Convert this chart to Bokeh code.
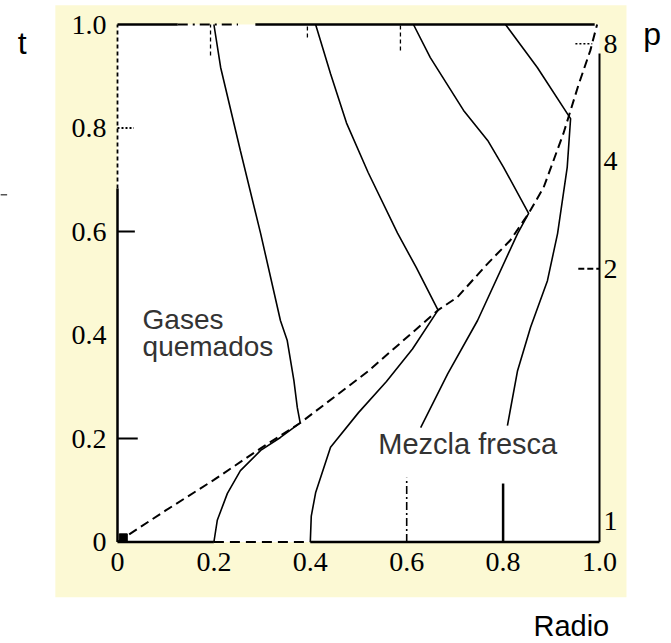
from bokeh.plotting import figure
from bokeh.models import Range1d, LinearAxis, FixedTicker, Label
from bokeh.embed import file_html
from bokeh.resources import INLINE

# ---------------- data ----------------
# flame front (dashed)
front_r = [0.0, 0.10, 0.20, 0.297, 0.379, 0.52, 0.665, 0.705, 0.768, 0.815, 0.853, 0.884, 0.925, 0.956, 0.981, 0.995]
front_t = [0.0, 0.061, 0.12, 0.181, 0.230, 0.33, 0.448, 0.473, 0.538, 0.583, 0.635, 0.685, 0.789, 0.882, 0.950, 1.0]

# particle path starting at r = 0.2
pathA_r = [0.2, 0.207, 0.228, 0.255, 0.297, 0.338, 0.379, 0.373, 0.366, 0.352, 0.338, 0.297, 0.255, 0.214, 0.2]
pathA_t = [0.0, 0.042, 0.094, 0.138, 0.177, 0.202, 0.230, 0.26, 0.312, 0.39, 0.428, 0.596, 0.756, 0.917, 1.0]

# particle path starting at r = 0.4
pathB_r = [0.4, 0.402, 0.411, 0.442, 0.50, 0.558, 0.612, 0.665, 0.62, 0.581, 0.52, 0.475, 0.442, 0.411]
pathB_t = [0.0, 0.05, 0.095, 0.183, 0.25, 0.31, 0.373, 0.448, 0.53, 0.597, 0.714, 0.81, 0.905, 1.0]

# particle path starting at r = 0.6 (lower part interrupted by the label)
pathC_low_r = [0.6, 0.6]
pathC_low_t = [0.0, 0.124]
pathC_r = [0.629, 0.685, 0.747, 0.83, 0.853, 0.801, 0.768, 0.718, 0.649, 0.614]
pathC_t = [0.221, 0.325, 0.428, 0.596, 0.635, 0.724, 0.776, 0.834, 0.936, 1.0]

# particle path starting at r = 0.8 (lower part interrupted by the label)
pathD_low_r = [0.8, 0.8]
pathD_low_t = [0.0, 0.113]
pathD_r = [0.809, 0.830, 0.857, 0.892, 0.913, 0.933, 0.940, 0.871, 0.805]
pathD_t = [0.225, 0.331, 0.415, 0.505, 0.596, 0.724, 0.818, 0.917, 1.0]

# short stubs near the top edge
stub_r = [0.193, 0.394, 0.587]
stub_t0 = [0.94, 0.975, 0.95]
stub_t1 = [1.0, 1.0, 1.0]

# axes
r_ticks = [0.0, 0.2, 0.4, 0.6, 0.8, 1.0]
r_labels = ["0", "0.2", "0.4", "0.6", "0.8", "1.0"]
t_ticks = [0.0, 0.2, 0.4, 0.6, 0.8, 1.0]
t_labels = ["0", "0.2", "0.4", "0.6", "0.8", "1.0"]
p_ticks_t = [0.041, 0.528, 0.737, 0.963]
p_labels = ["1", "2", "4", "8"]

# ---------------- figure ----------------
W, H = 671, 643
X0, XW = 117.0, 482.0      # pixel of r=0 and pixel width of r in [0,1]
Y0, YH = 541.5, 517.5      # pixel of t=0 and pixel height of t in [0,1]

p = figure(width=W, height=H, output_backend="svg", toolbar_location=None,
           x_range=Range1d(-X0 / XW, (W - X0) / XW),
           y_range=Range1d(-(H - Y0) / YH, Y0 / YH),
           x_axis_location=None, y_axis_location=None, min_border=0)
p.min_border_left = p.min_border_right = p.min_border_top = p.min_border_bottom = 0
p.grid.visible = False
p.background_fill_color = "white"
p.border_fill_color = "white"
p.outline_line_color = None

SERIF = "Liberation Serif"
SANS = "Liberation Sans"

def make_axis(ticks, labels, loc, standoff):
    ax = LinearAxis(ticker=FixedTicker(ticks=ticks),
                    major_label_overrides=dict(zip(ticks, labels)),
                    fixed_location=loc)
    ax.major_tick_in = 0
    ax.major_tick_out = 0
    ax.minor_tick_line_color = None
    ax.axis_line_color = None
    ax.major_label_text_font = SERIF
    ax.major_label_text_font_size = "28px"
    ax.major_label_text_color = "black"
    ax.major_label_standoff = standoff
    return ax

# beige scanned background and white plotting area
p.quad(left=[-0.129], right=[1.056], bottom=[-0.107], top=[1.037],
       fill_color="#fcf9d4", line_color=None)
p.quad(left=[0], right=[1], bottom=[0], top=[1], fill_color="white", line_color=None)

p.add_layout(make_axis(r_ticks, r_labels, 0, 11), "below")
p.add_layout(make_axis(t_ticks, t_labels, 0, 11), "left")
p.add_layout(make_axis(p_ticks_t, p_labels, 1, 4), "right")

# frame lines
fw = 2.5
p.line([0, 0], [0, 0.683], line_color="black", line_width=fw)
p.line([0, 0], [0.683, 1.0], line_color="black", line_width=1.8, line_dash="4 3")
p.line([0, 0.2], [0, 0], line_color="black", line_width=fw)
p.line([0.2, 0.4], [0, 0], line_color="black", line_width=2, line_dash="10 6")
p.line([0.4, 1.0], [0, 0], line_color="black", line_width=fw)
p.line([0, 0.125], [1, 1], line_color="black", line_width=fw)
p.line([0.125, 0.25], [1, 1], line_color="black", line_width=2, line_dash="10 5 2 5")
p.line([0.286, 0.99], [1, 1], line_color="black", line_width=fw)
p.line([1.0, 1.0], [0, 0.944], line_color="black", line_width=2)

# stray mark at the far left of the page
p.line([-0.243, -0.229], [0.671, 0.671], line_color="#555555", line_width=1.5)

# inside tick marks
p.segment(x0=[0, 0], y0=[0.2, 0.6], x1=[0.042, 0.036], y1=[0.2, 0.6], line_color="black", line_width=2)
p.segment(x0=[0], y0=[0.8], x1=[0.034], y1=[0.8], line_color="black", line_width=2, line_dash="2 2")
p.segment(x0=[0.956], y0=[0.528], x1=[1.0], y1=[0.528], line_color="black", line_width=2, line_dash="6 3")
p.segment(x0=[0.95], y0=[0.963], x1=[0.985], y1=[0.963], line_color="black", line_width=1.5, line_dash="2 2")

# curves
lw = 1.6
for rr, tt in [(pathA_r, pathA_t), (pathB_r, pathB_t), (pathC_r, pathC_t), (pathD_r, pathD_t)]:
    p.line(rr, tt, line_color="black", line_width=lw)
p.line(pathC_low_r, pathC_low_t, line_color="black", line_width=1.6, line_dash="8 3 2 3")
p.line(pathD_low_r, pathD_low_t, line_color="black", line_width=2.5)
p.segment(x0=stub_r, y0=stub_t0, x1=stub_r, y1=stub_t1, line_color="black", line_width=1.3, line_dash="4 3")
p.line(front_r, front_t, line_color="black", line_width=2, line_dash="9 5")
p.scatter([0.012], [0.008], marker="square", size=8, color="black")

# texts
def lab(x, y, text, size, font=SANS, color="#333333"):
    p.add_layout(Label(x=x, y=y, text=text, text_font=font, text_font_size=size,
                       text_color=color, text_align="left", text_baseline="alphabetic"))

lab(0.052, 0.430, "Gases", "28px")
lab(0.052, 0.378, "quemados", "28px")
lab(0.541, 0.190, "Mezcla fresca", "29px")
lab(-0.207, 0.965, "t", "32px", color="black")
lab(1.091, 0.982, "p", "32px", color="black")
lab(0.863, -0.162, "Radio", "29px", color="black")

open("out.html", "w").write(file_html(p, INLINE))
